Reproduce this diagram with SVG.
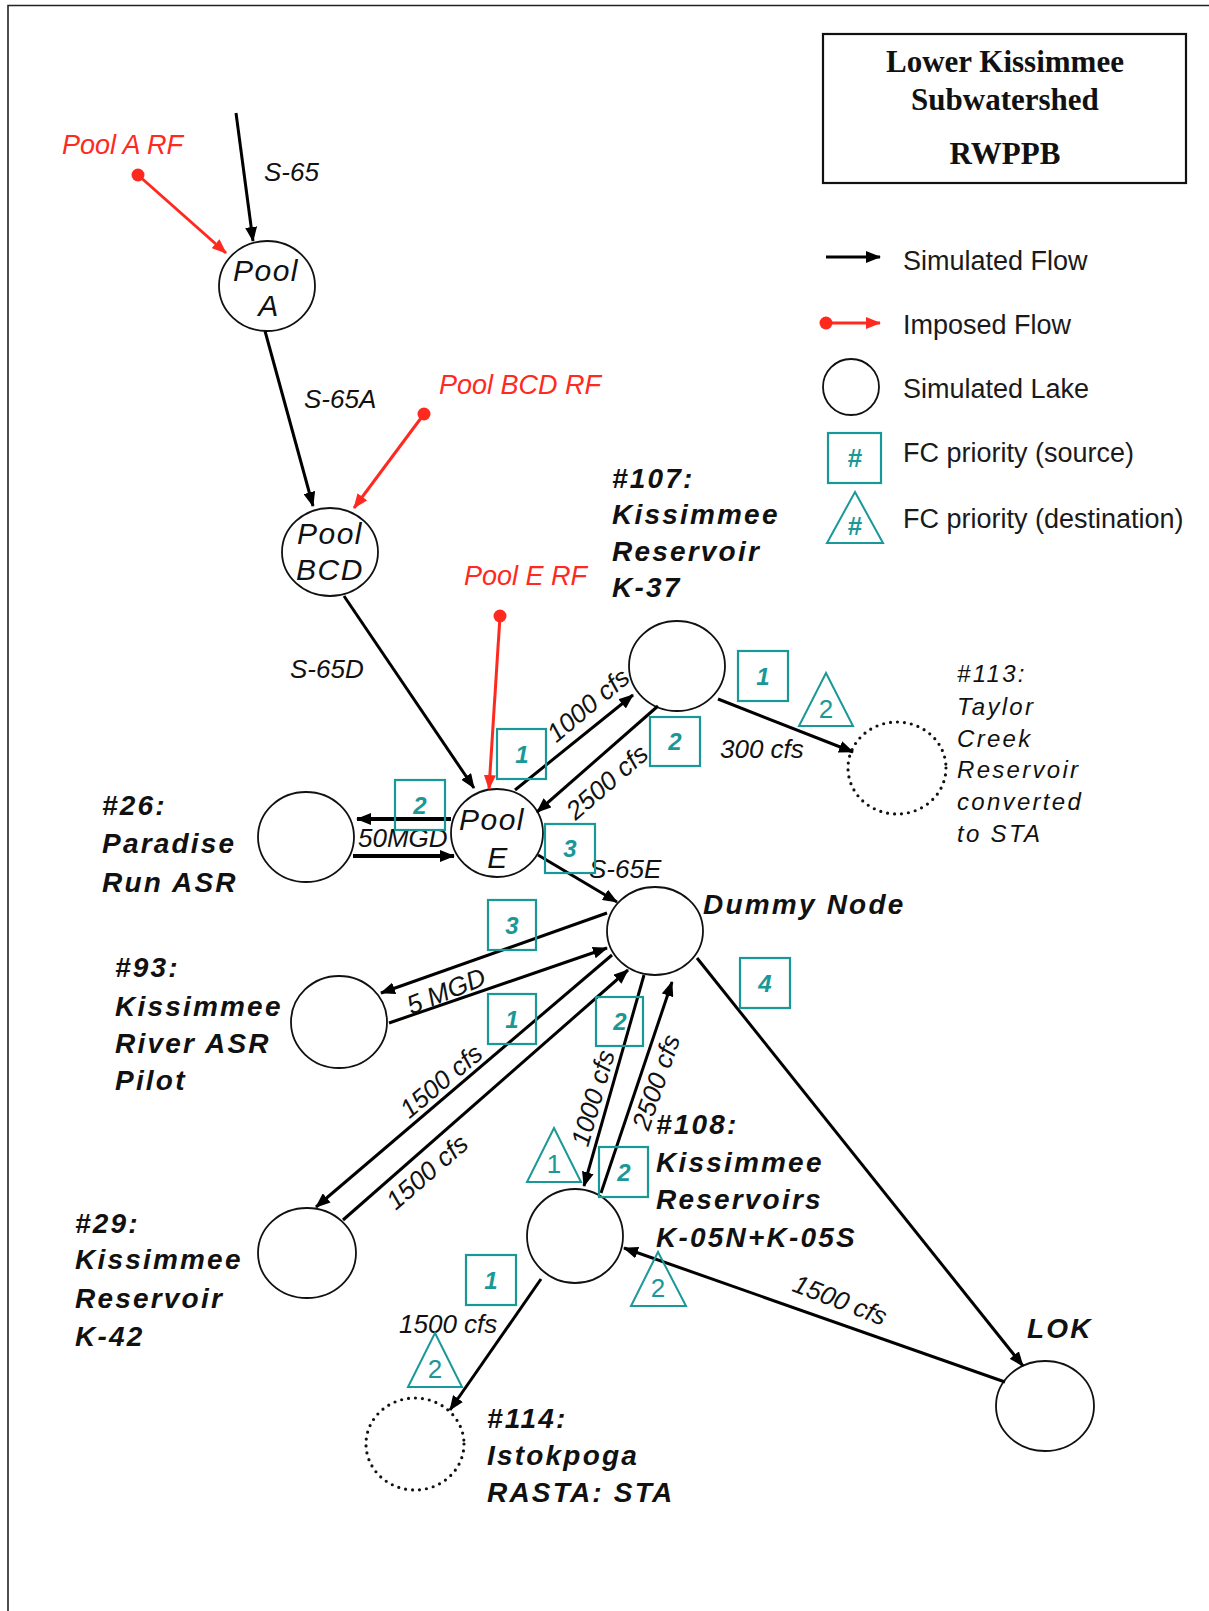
<svg xmlns="http://www.w3.org/2000/svg" width="1209" height="1611" viewBox="0 0 1209 1611">
  <defs>
    <marker id="ah" markerUnits="userSpaceOnUse" markerWidth="15" markerHeight="12" refX="14" refY="6" orient="auto">
      <path d="M0,0 L15,6 L0,12 Z" fill="#000"/>
    </marker>
    <marker id="ahr" markerUnits="userSpaceOnUse" markerWidth="15" markerHeight="12" refX="14" refY="6" orient="auto">
      <path d="M0,0 L15,6 L0,12 Z" fill="#ff2a1f"/>
    </marker>
    <style>
      .lake { fill: #fff; stroke: #111; stroke-width: 1.8; }
      .sta { fill: #fff; stroke: #111; stroke-width: 3.2; stroke-dasharray: 0 7; stroke-linecap: round; }
      .flow { stroke: #000; stroke-width: 3; fill: none; marker-end: url(#ah); }
      .thick { stroke-width: 4; }
      .imp { stroke: #ff2a1f; stroke-width: 3; fill: none; marker-end: url(#ahr); }
      .dot { fill: #ff2a1f; }
      .src { fill: none; stroke: #1a9898; stroke-width: 2.2; }
      .dst { fill: none; stroke: #1a9898; stroke-width: 2; }
      .num { font-family: "Liberation Sans", Arial, sans-serif; font-size: 24px; font-style: italic; font-weight: bold; fill: #1a9898; text-anchor: middle; }
      .tnum { font-family: "Liberation Sans", Arial, sans-serif; font-size: 26px; fill: #1a9898; text-anchor: middle; }
      .pool { font-family: "Liberation Sans", Arial, sans-serif; font-size: 30px; font-style: italic; fill: #111; text-anchor: middle; letter-spacing: 1.5px; }
      .elab { font-family: "Liberation Sans", Arial, sans-serif; font-size: 26px; font-style: italic; fill: #111; }
      .rf { font-family: "Liberation Sans", Arial, sans-serif; font-size: 27px; font-style: italic; fill: #ff2a1f; }
      .nlab { font-family: "Liberation Sans", Arial, sans-serif; font-size: 28px; font-style: italic; font-weight: bold; fill: #111; letter-spacing: 2.2px; }
      .nlab2 { font-family: "Liberation Sans", Arial, sans-serif; font-size: 24px; font-style: italic; fill: #111; letter-spacing: 2.3px; }
      .leg { font-family: "Liberation Sans", Arial, sans-serif; font-size: 27px; fill: #1a1a1a; }
      .title { font-family: "Liberation Serif", "Times New Roman", serif; font-size: 31px; font-weight: bold; fill: #111; text-anchor: middle; }
    </style>
  </defs>

  <rect width="1209" height="1611" fill="#fff"/>
  <!-- frame -->
  <path d="M8,1611 L8,5.5 L1209,5.5" fill="none" stroke="#222" stroke-width="1.6"/>

  <!-- title box -->
  <g id="title">
    <rect x="823" y="34" width="363" height="149" fill="none" stroke="#111" stroke-width="2.2"/>
    <text class="title" x="1005" y="72">Lower Kissimmee</text>
    <text class="title" x="1005" y="110">Subwatershed</text>
    <text class="title" x="1005" y="164">RWPPB</text>
  </g>

  <!-- legend -->
  <g id="legend">
    <line x1="826" y1="257" x2="880" y2="257" class="flow"/>
    <text class="leg" x="903" y="270">Simulated Flow</text>
    <circle cx="826" cy="323" r="6.5" class="dot"/>
    <line x1="826" y1="323" x2="880" y2="323" class="imp"/>
    <text class="leg" x="903" y="334">Imposed Flow</text>
    <circle cx="851" cy="387" r="28" class="lake"/>
    <text class="leg" x="903" y="398">Simulated Lake</text>
    <rect x="828" y="433" width="53" height="50" class="src"/>
    <text class="tnum" x="855" y="467" font-weight="bold" font-size="24">#</text>
    <text class="leg" x="903" y="462">FC priority (source)</text>
    <polygon points="855,492 883,543 827,543" class="dst"/>
    <text class="tnum" x="855" y="535" font-weight="bold" font-size="24">#</text>
    <text class="leg" x="903" y="528">FC priority (destination)</text>
  </g>

  <!-- nodes -->
  <g id="pool-a">
    <ellipse cx="267" cy="286" rx="48" ry="45" class="lake"/>
    <text class="pool" x="266" y="281">Pool</text>
    <text class="pool" x="269" y="316">A</text>
  </g>
  <g id="pool-bcd">
    <ellipse cx="330" cy="552" rx="48" ry="44" class="lake"/>
    <text class="pool" x="330" y="544">Pool</text>
    <text class="pool" x="330" y="580">BCD</text>
  </g>
  <g id="pool-e">
    <ellipse cx="497" cy="833" rx="46" ry="44" class="lake"/>
    <text class="pool" x="492" y="830">Pool</text>
    <text class="pool" x="498" y="868">E</text>
  </g>
  <g id="k37">
    <ellipse cx="677" cy="666" rx="48" ry="45" class="lake"/>
    <text class="nlab" x="612"><tspan x="612" y="488">#107:</tspan><tspan x="612" y="524">Kissimmee</tspan><tspan x="612" y="561">Reservoir</tspan><tspan x="612" y="597">K-37</tspan></text>
  </g>
  <g id="paradise">
    <ellipse cx="306" cy="837" rx="48" ry="45" class="lake"/>
    <text class="nlab" x="102"><tspan x="102" y="815">#26:</tspan><tspan x="102" y="853">Paradise</tspan><tspan x="102" y="892">Run ASR</tspan></text>
  </g>
  <g id="taylor-creek">
    <ellipse cx="897" cy="768" rx="49" ry="46" class="sta"/>
    <text class="nlab2" x="957"><tspan x="957" y="682">#113:</tspan><tspan x="957" y="715">Taylor</tspan><tspan x="957" y="747">Creek</tspan><tspan x="957" y="778">Reservoir</tspan><tspan x="957" y="810">converted</tspan><tspan x="957" y="842">to STA</tspan></text>
  </g>
  <g id="dummy">
    <ellipse cx="655" cy="931" rx="48" ry="44" class="lake"/>
    <text class="nlab" x="703" y="914">Dummy Node</text>
  </g>
  <g id="kr-asr">
    <ellipse cx="339" cy="1022" rx="48" ry="46" class="lake"/>
    <text class="nlab" x="115"><tspan x="115" y="977">#93:</tspan><tspan x="115" y="1016">Kissimmee</tspan><tspan x="115" y="1053">River ASR</tspan><tspan x="115" y="1090">Pilot</tspan></text>
  </g>
  <g id="k42">
    <ellipse cx="307" cy="1253" rx="49" ry="45" class="lake"/>
    <text class="nlab" x="75"><tspan x="75" y="1233">#29:</tspan><tspan x="75" y="1269">Kissimmee</tspan><tspan x="75" y="1308">Reservoir</tspan><tspan x="75" y="1346">K-42</tspan></text>
  </g>
  <g id="k05">
    <ellipse cx="575" cy="1236" rx="48" ry="47" class="lake"/>
    <text class="nlab" x="656"><tspan x="656" y="1134">#108:</tspan><tspan x="656" y="1172">Kissimmee</tspan><tspan x="656" y="1209">Reservoirs</tspan><tspan x="656" y="1247">K-05N+K-05S</tspan></text>
  </g>
  <g id="lok">
    <ellipse cx="1045" cy="1406" rx="49" ry="45" class="lake"/>
    <text class="nlab" x="1027" y="1338">LOK</text>
  </g>
  <g id="istokpoga">
    <ellipse cx="415" cy="1444" rx="49" ry="46" class="sta"/>
    <text class="nlab" x="487"><tspan x="487" y="1428">#114:</tspan><tspan x="487" y="1465">Istokpoga</tspan><tspan x="487" y="1502">RASTA: STA</tspan></text>
  </g>

  <!-- connectors -->
  <g id="connectors">
    <line x1="236" y1="113" x2="253" y2="241" class="flow"/>
    <text class="elab" x="264" y="181">S-65</text>

    <circle cx="138" cy="175" r="6.5" class="dot"/>
    <line x1="138" y1="175" x2="226" y2="253" class="imp"/>
    <text class="rf" x="62" y="154">Pool A RF</text>

    <line x1="265" y1="331" x2="313" y2="506" class="flow"/>
    <text class="elab" x="304" y="408">S-65A</text>

    <circle cx="424" cy="414" r="6.5" class="dot"/>
    <line x1="424" y1="414" x2="354" y2="508" class="imp"/>
    <text class="rf" x="439" y="394">Pool BCD RF</text>

    <line x1="344" y1="596" x2="474" y2="788" class="flow"/>
    <text class="elab" x="290" y="678">S-65D</text>

    <circle cx="500" cy="616" r="6.5" class="dot"/>
    <line x1="500" y1="616" x2="489" y2="789" class="imp"/>
    <text class="rf" x="464" y="585">Pool E RF</text>

    <line x1="515" y1="790" x2="633" y2="695" class="flow"/>
    <text class="elab" transform="translate(588,705) rotate(-40)" x="0" y="9" text-anchor="middle">1000 cfs</text>
    <line x1="658" y1="706" x2="537" y2="812" class="flow"/>
    <text class="elab" transform="translate(607,782) rotate(-41)" x="0" y="9" text-anchor="middle">2500 cfs</text>

    <line x1="451" y1="819" x2="357" y2="819" class="flow thick"/>
    <line x1="353" y1="856" x2="454" y2="856" class="flow thick"/>
    <text class="elab" x="358" y="847">50MGD</text>

    <line x1="718" y1="699" x2="853" y2="752" class="flow"/>
    <text class="elab" x="720" y="758">300 cfs</text>

    <line x1="538" y1="855" x2="617" y2="902" class="flow"/>
    <text class="elab" x="589" y="878">S-65E</text>

    <line x1="607" y1="913" x2="381" y2="993" class="flow"/>
    <line x1="389" y1="1023" x2="607" y2="948" class="flow"/>
    <text class="elab" transform="translate(446,991) rotate(-22)" x="0" y="9" text-anchor="middle">5 MGD</text>

    <line x1="612" y1="955" x2="316" y2="1207" class="flow"/>
    <text class="elab" transform="translate(441,1081) rotate(-40)" x="0" y="9" text-anchor="middle">1500 cfs</text>
    <line x1="343" y1="1220" x2="628" y2="970" class="flow"/>
    <text class="elab" transform="translate(427,1172) rotate(-41)" x="0" y="9" text-anchor="middle">1500 cfs</text>

    <line x1="644" y1="975" x2="584" y2="1186" class="flow"/>
    <text class="elab" transform="translate(593,1098) rotate(-74)" x="0" y="9" text-anchor="middle">1000 cfs</text>
    <line x1="601" y1="1193" x2="672" y2="982" class="flow"/>
    <text class="elab" transform="translate(656,1082) rotate(-71)" x="0" y="9" text-anchor="middle">2500 cfs</text>

    <line x1="697" y1="958" x2="1023" y2="1366" class="flow"/>
    <line x1="1005" y1="1382" x2="624" y2="1248" class="flow"/>
    <text class="elab" transform="translate(840,1300) rotate(21)" x="0" y="9" text-anchor="middle">1500 cfs</text>

    <line x1="541" y1="1279" x2="450" y2="1410" class="flow"/>
    <text class="elab" x="399" y="1333">1500 cfs</text>
  </g>

  <!-- FC priorities -->
  <g id="fc-priorities">
    <rect x="497" y="729" width="49" height="50" class="src"/><text class="num" x="522" y="763">1</text>
    <rect x="738" y="651" width="50" height="50" class="src"/><text class="num" x="763" y="685">1</text>
    <rect x="650" y="717" width="50" height="49" class="src"/><text class="num" x="675" y="750">2</text>
    <rect x="395" y="780" width="50" height="50" class="src"/><text class="num" x="420" y="814">2</text>
    <rect x="545" y="824" width="50" height="49" class="src"/><text class="num" x="570" y="857">3</text>
    <rect x="488" y="900" width="48" height="50" class="src"/><text class="num" x="512" y="934">3</text>
    <rect x="488" y="994" width="48" height="50" class="src"/><text class="num" x="512" y="1028">1</text>
    <rect x="596" y="997" width="47" height="49" class="src"/><text class="num" x="620" y="1030">2</text>
    <rect x="740" y="958" width="50" height="50" class="src"/><text class="num" x="765" y="992">4</text>
    <rect x="599" y="1147" width="49" height="50" class="src"/><text class="num" x="624" y="1181">2</text>
    <rect x="466" y="1255" width="50" height="50" class="src"/><text class="num" x="491" y="1289">1</text>
    <polygon points="826,673 853,726 799,726" class="dst"/><text class="tnum" x="826" y="718">2</text>
    <polygon points="554,1128 581,1182 527,1182" class="dst"/><text class="tnum" x="554" y="1173">1</text>
    <polygon points="658,1252 686,1306 631,1306" class="dst"/><text class="tnum" x="658" y="1297">2</text>
    <polygon points="435,1333 462,1387 408,1387" class="dst"/><text class="tnum" x="435" y="1378">2</text>
  </g>
</svg>
